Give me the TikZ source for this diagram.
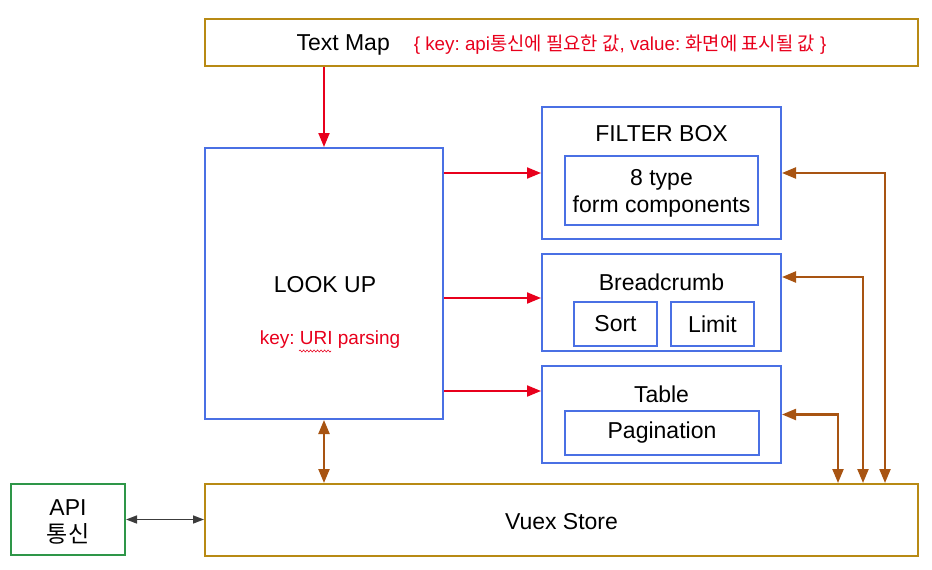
\documentclass[tikz,border=0pt]{standalone}
\usepackage{fontspec}
\setmainfont{Liberation Sans}
\newfontfamily\kr{Noto Sans CJK KR}
\usetikzlibrary{arrows.meta,decorations.pathmorphing}
\frenchspacing
\definecolor{gold}{RGB}{184,138,20}
\definecolor{bblue}{RGB}{74,112,228}
\definecolor{rred}{RGB}{232,0,28}
\definecolor{brn}{RGB}{168,84,18}
\definecolor{grn}{RGB}{46,150,72}
\definecolor{dgray}{RGB}{60,60,60}
\tikzset{
  box/.style={draw=#1, line width=2pt, inner sep=0pt, align=center, font=\fontsize{23}{27}\selectfont},
  txt/.style={inner sep=0pt, align=center, font=\fontsize{23}{27}\selectfont},
  rtxt/.style={inner sep=0pt, text=rred, font=\fontsize{19}{22}\selectfont},
  rarr/.style={draw=rred, line width=2pt, -{Triangle[length=14pt,width=11pt]}},
  barr/.style={draw=brn, line width=2.2pt, {Triangle[length=14pt,width=11pt]}-{Triangle[length=14pt,width=11pt]}},
  karr/.style={draw=dgray, line width=1.5pt, {Triangle[length=11pt,width=8pt]}-{Triangle[length=11pt,width=8pt]}}
}
\begin{document}
\begin{tikzpicture}[x=1pt,y=-1pt]
\useasboundingbox (0,0) rectangle (932,570);
% boxes
\node[box=gold, minimum width=713pt, minimum height=47pt] (textmap) at (561.5,42.5) {};
\node[box=bblue, minimum width=238pt, minimum height=271pt] (lookup) at (324,283.5) {};
\node[box=bblue, minimum width=239pt, minimum height=132pt] (filter) at (661.5,173) {};
\node[box=bblue, minimum width=193pt, minimum height=69pt] (formc) at (661.5,190.5) {};
\node[box=bblue, minimum width=239pt, minimum height=97pt] (bread) at (661.5,302.5) {};
\node[box=bblue, minimum width=83pt, minimum height=44pt] (sort) at (615.5,324) {Sort};
\node[box=bblue, minimum width=83pt, minimum height=44pt] (limit) at (712.5,324) {Limit};
\node[box=bblue, minimum width=239pt, minimum height=97pt] (table) at (661.5,414.5) {};
\node[box=bblue, minimum width=194pt, minimum height=44pt] (pag) at (662,433) {Pagination};
\node[box=gold, minimum width=713pt, minimum height=72pt] (vuex) at (561.5,520) {};
\node[box=grn, minimum width=114pt, minimum height=71pt] (api) at (68,519.5) {};
% texts
\node[txt] (vuexT) at (561.5,521.5) {Vuex Store};
\node[txt] (apiT) at (68,522) {API\\{\kr 통신}};
\node[txt] (tmT) at (561.5,45) {Text Map\hspace{24pt}{\color{rred}\fontsize{18.8}{22}\selectfont \{ key: api{\kr 통신에 필요한 값}, value: {\kr 화면에 표시될 값} \}}};
\node[txt] (lookT) at (325,285) {LOOK UP};
\node[rtxt] (uriT) at (330,340) {key: URI parsing};
\draw[rred, line width=0.6pt, decorate, decoration={snake, amplitude=1pt, segment length=3.5pt}] (299,351) -- (331,351);
\node[txt] (filterT) at (661.5,134) {FILTER BOX};
\node[txt] (formT) at (661.5,193.5) {8 type\\form components};
\node[txt] (breadT) at (661.5,282) {Breadcrumb};
\node[txt] (tableT) at (661.5,394) {Table};
% red arrows
\draw[rarr] (lookup.north |- textmap.south) -- (lookup.north);
\draw[rarr] (lookup.east |- filter.west) -- (filter.west);
\draw[rarr] (lookup.east |- 0,298) -- (bread.west |- 0,298);
\draw[rarr] (lookup.east |- 0,391) -- (table.west |- 0,391);
% brown arrows
\draw[barr] (lookup.south) -- (lookup.south |- vuex.north);
\draw[barr] (filter.east) -- (885,173) -- (885,0 |- vuex.north);
\draw[barr] (bread.east |- 0,277) -- (863,277) -- (863,0 |- vuex.north);
\draw[barr] (table.east) -- (838,414.5) -- (838,0 |- vuex.north);
% black arrow
\draw[karr] (api.east) -- (vuex.west |- api.east);
\end{tikzpicture}
\end{document}
